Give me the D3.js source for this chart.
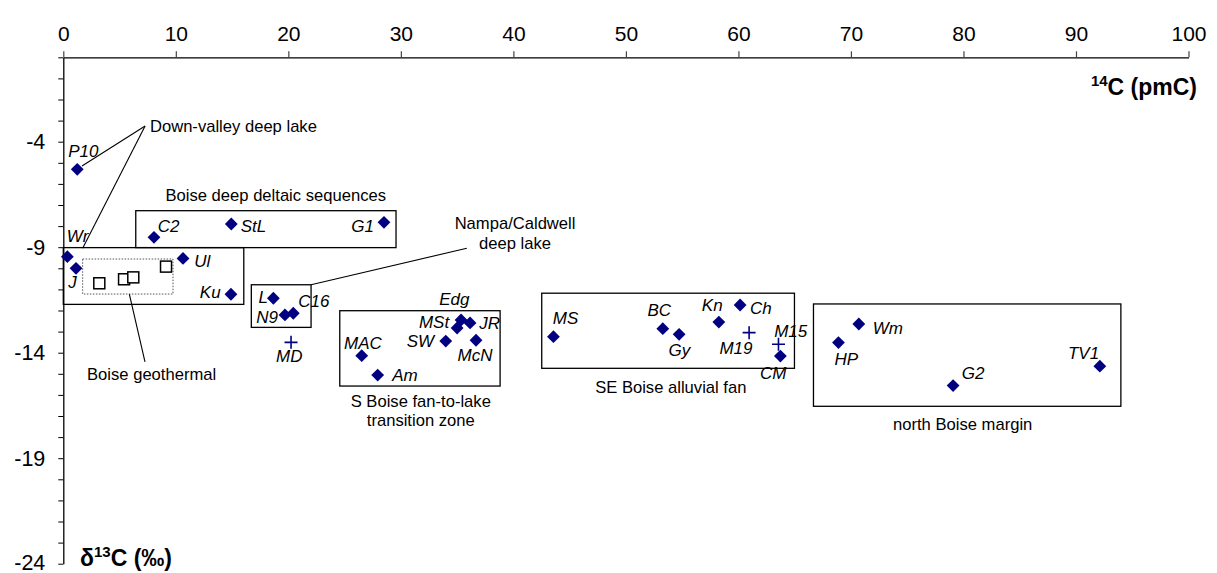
<!DOCTYPE html>
<html>
<head>
<meta charset="utf-8">
<script src="https://cdn.jsdelivr.net/npm/d3@7"></script>
<style>
  html, body { margin: 0; padding: 0; background: #fff; }
  svg { display: block; font-family: "Liberation Sans", Arial, sans-serif; }
</style>
</head>
<body>
<svg id="chart" width="1217" height="573"></svg>
<script>
// Groundwater samples (filled diamonds): 14C activity (pmC) and δ13C (‰)
const diamondNames = ["P10", "Wr", "J", "C2", "StL", "G1", "Ul", "Ku", "L", "N9", "C16",
  "MAC", "Am", "SW", "MSt", "Edg", "JR", "McN",
  "MS", "BC", "Gy", "Kn", "Ch", "CM",
  "HP", "Wm", "G2", "TV1"];
const diamondPmc = [1.24, 0.36, 1.13, 8.06, 14.93, 28.5, 10.64, 14.9, 18.67, 19.7, 20.44,
  26.52, 27.94, 33.99, 35.0, 35.35, 36.15, 36.68,
  43.56, 53.28, 54.73, 58.26, 60.15, 63.73,
  68.89, 70.7, 79.08, 92.12];
const diamondD13c = [-5.31, -9.45, -10.0, -8.53, -7.9, -7.82, -9.53, -11.23, -11.42, -12.21, -12.13,
  -14.14, -15.06, -13.45, -12.83, -12.45, -12.59, -13.41,
  -13.24, -12.86, -13.13, -12.55, -11.74, -14.16,
  -13.52, -12.64, -15.56, -14.64];

// Samples plotted as crosses
const crossNames = ["MD", "M19", "M15"];
const crossPmc = [20.24, 60.95, 63.56];
const crossD13c = [-13.51, -13.05, -13.6];

// Boise geothermal wells (open squares)
const geothermalPmc = [3.2, 5.4, 6.22, 9.13];
const geothermalD13c = [-10.71, -10.52, -10.43, -9.92];

// Axis ticks
const pmcTicks = [0, 10, 20, 30, 40, 50, 60, 70, 80, 90, 100];
const d13cTicks = d3.range(0, -25, -1);
const d13cTickLabels = [-4, -9, -14, -19, -24];

// Group outlines [x0, x1, y0, y1] in data units
const groupBoxNames = ["deltaic", "downValley", "nampa", "sBoise", "seBoise", "north"];
const groupBoxes = [
  [6.44, 29.57, -7.27, -9.02],
  [0, 16.04, -9.02, -11.71],
  [16.71, 22.02, -10.78, -12.8],
  [24.57, 38.82, -12.01, -15.58],
  [42.52, 64.98, -11.18, -14.74],
  [66.67, 93.99, -11.69, -16.54]
];
const geothermalBox = [1.72, 9.75, -9.56, -11.22];

// Group captions
const groupLabels = [
  { lines: ["Down-valley deep lake"], x: 7.7, y: -3.52, anchor: "start" },
  { lines: ["Boise deep deltaic sequences"], x: 18.88, y: -6.81, anchor: "middle" },
  { lines: ["Nampa/Caldwell", "deep lake"], x: 40.15, y: -8.14, anchor: "middle" },
  { lines: ["Boise geothermal"], x: 7.85, y: -15.29, anchor: "middle" },
  { lines: ["S Boise fan-to-lake", "transition zone"], x: 31.77, y: -16.56, anchor: "middle" },
  { lines: ["SE Boise alluvial fan"], x: 53.99, y: -15.92, anchor: "middle" },
  { lines: ["north Boise margin"], x: 79.93, y: -17.66, anchor: "middle" }
];

// Leader lines from captions to their groups
const leaders = [
  [[7.27, -3.26], [1.66, -5.15]],
  [[7.27, -3.26], [1.72, -9.05]],
  [[5.87, -11.22], [7.26, -14.44]],
  [[35.86, -9.05], [22.02, -10.78]]
];

// Sample label placement: [dx, dy, anchor] in px from the marker centre
const labelPlace = {
  P10: [-9, -12, "start"], Wr: [-0.6, -15, "start"], J: [-7.7, 20, "start"],
  C2: [3.7, -5.6, "start"], StL: [9.4, 7.7, "start"], G1: [-10, 9.4, "end"],
  Ul: [11.3, 8.4, "start"], Ku: [-10.3, 4, "end"], L: [-5.3, 4.4, "end"],
  N9: [-7, 8.3, "end"], C16: [5, -6, "start"], MD: [-1.7, 19.4, "middle"],
  MAC: [1.3, -6.7, "middle"], Am: [14.6, 5.7, "start"], SW: [-11.7, 5.7, "end"],
  MSt: [-8, 0.3, "end"], Edg: [-6.7, -15, "middle"], JR: [9.3, 6, "start"],
  McN: [-18.4, 20.7, "start"], MS: [-0.6, -12.7, "start"], BC: [-15.4, -12.7, "start"],
  Gy: [-10.7, 21.7, "start"], Kn: [-17, -11.3, "start"], Ch: [10, 9.3, "start"],
  M19: [-29.7, 21.3, "start"], M15: [-4.3, -7.6, "start"], CM: [-20.3, 23, "start"],
  HP: [-4, 22.3, "start"], Wm: [14, 10, "start"], G2: [8.7, -6.4, "start"],
  TV1: [-0.7, -7, "end"]
};

const svg = d3.select("#chart");
const x = d3.scaleLinear().domain([0, 100]).range([63.3, 1188.5]);
const y = d3.scaleLinear().domain([0, -24]).range([57.3, 563.7]);
const navy = "#000080";

// Top axis (14C)
const xAxis = svg.append("g")
  .attr("transform", `translate(0,${y(0)})`)
  .call(d3.axisTop(x).tickValues(pmcTicks).tickSize(6).tickSizeOuter(0).tickPadding(10)
    .tickFormat(d3.format("d")));
xAxis.selectAll("text").attr("font-size", 21).attr("fill", "#000")
  .attr("font-family", "'Liberation Sans', Arial, sans-serif");
xAxis.select(".domain").attr("stroke", "#000").attr("stroke-width", 1.3);
xAxis.selectAll(".tick line").attr("stroke", "#444").attr("stroke-width", 1.2);

// Left axis (δ13C)
const yAxis = svg.append("g")
  .attr("transform", `translate(${x(0)},0)`)
  .call(d3.axisLeft(y).tickValues(d13cTicks).tickSize(5).tickSizeOuter(0).tickPadding(13)
    .tickFormat(d => d13cTickLabels.includes(d) ? String(d) : ""));
yAxis.selectAll("text").attr("font-size", 21.5).attr("fill", "#000")
  .attr("font-family", "'Liberation Sans', Arial, sans-serif")
  .attr("dy", d => d === -24 ? "0.25em" : "0.32em");
yAxis.select(".domain").attr("stroke", "#000").attr("stroke-width", 1.3);
yAxis.selectAll(".tick line").attr("stroke", "#000").attr("stroke-width", 1);

// Axis titles
const xTitle = svg.append("text").attr("x", 1197).attr("y", 95)
  .attr("text-anchor", "end").attr("font-weight", "bold").attr("font-size", 23);
xTitle.append("tspan").attr("font-size", 15).attr("dy", -9).text("14");
xTitle.append("tspan").attr("dy", 9).text("C (pmC)");

const yTitle = svg.append("text").attr("x", 80).attr("y", 566)
  .attr("font-weight", "bold").attr("font-size", 23);
yTitle.append("tspan").text("δ");
yTitle.append("tspan").attr("font-size", 15).attr("dy", -9).text("13");
yTitle.append("tspan").attr("dy", 9).text("C (‰)");

// Group outlines
svg.append("g").selectAll("rect").data(groupBoxes).join("rect")
  .attr("x", d => x(d[0])).attr("y", d => y(d[2]))
  .attr("width", d => x(d[1]) - x(d[0])).attr("height", d => y(d[3]) - y(d[2]))
  .attr("fill", "none").attr("stroke", "#000").attr("stroke-width", 1.3);

svg.append("rect")
  .attr("x", x(geothermalBox[0])).attr("y", y(geothermalBox[2]))
  .attr("width", x(geothermalBox[1]) - x(geothermalBox[0]))
  .attr("height", y(geothermalBox[3]) - y(geothermalBox[2]))
  .attr("fill", "none").attr("stroke", "#555").attr("stroke-width", 1)
  .attr("stroke-dasharray", "1.5,1.5");

// Leader lines
svg.append("g").selectAll("line").data(leaders).join("line")
  .attr("x1", d => x(d[0][0])).attr("y1", d => y(d[0][1]))
  .attr("x2", d => x(d[1][0])).attr("y2", d => y(d[1][1]))
  .attr("stroke", "#000").attr("stroke-width", 1.1);

// Group captions
const capG = svg.append("g").attr("font-size", 16.6).attr("fill", "#000");
groupLabels.forEach(g => {
  const t = capG.append("text").attr("x", x(g.x)).attr("y", y(g.y)).attr("text-anchor", g.anchor);
  g.lines.forEach((ln, i) => {
    t.append("tspan").attr("x", x(g.x)).attr("dy", i === 0 ? 0 : 19.5).text(ln);
  });
});

// Geothermal open squares
svg.append("g").selectAll("rect").data(geothermalPmc).join("rect")
  .attr("x", (d, i) => x(d) - 5.5).attr("y", (d, i) => y(geothermalD13c[i]) - 5.5)
  .attr("width", 11).attr("height", 11)
  .attr("fill", "#fff").attr("stroke", "#000").attr("stroke-width", 1.5);

// Diamonds
const diamond = d3.symbol().type(d3.symbolSquare).size(82);
svg.append("g").selectAll("path").data(diamondPmc).join("path")
  .attr("d", diamond)
  .attr("transform", (d, i) => `translate(${x(d)},${y(diamondD13c[i])}) rotate(45)`)
  .attr("fill", navy);

// Crosses
svg.append("g").selectAll("path").data(crossPmc).join("path")
  .attr("d", (d, i) => `M${x(d) - 6.5},${y(crossD13c[i])}h13M${x(d)},${y(crossD13c[i]) - 6.5}v13`)
  .attr("fill", "none").attr("stroke", navy).attr("stroke-width", 1.6);

// Sample labels
const labG = svg.append("g").attr("font-size", 17).attr("font-style", "italic").attr("fill", "#000");
const addLabels = (names, xs, ys) => {
  names.forEach((n, i) => {
    const p = labelPlace[n];
    labG.append("text")
      .attr("x", x(xs[i]) + p[0]).attr("y", y(ys[i]) + p[1])
      .attr("text-anchor", p[2]).text(n);
  });
};
addLabels(diamondNames, diamondPmc, diamondD13c);
addLabels(crossNames, crossPmc, crossD13c);
</script>
</body>
</html>
